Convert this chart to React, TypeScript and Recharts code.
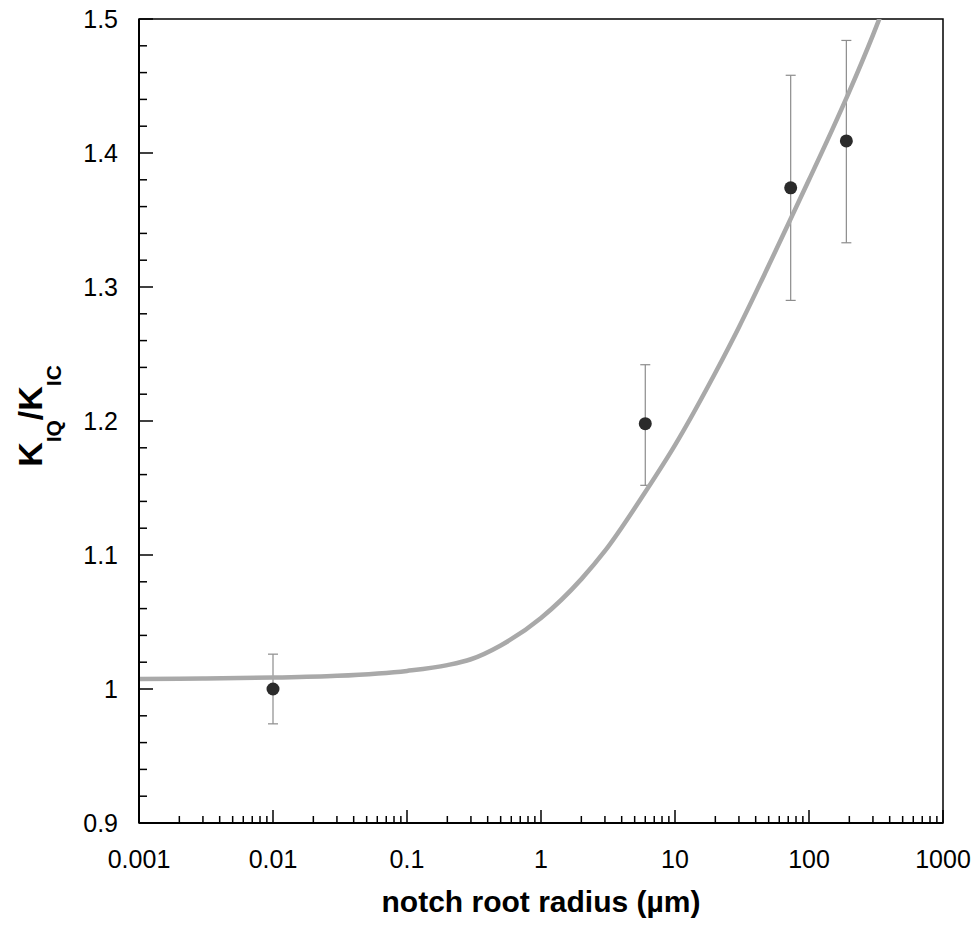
import {
    ComposedChart,
    Line,
    Scatter,
    ErrorBar,
    XAxis,
    YAxis,
    ReferenceArea,
} from 'recharts';

// measured points: notch root radius (um) vs KIQ/KIC, error = [below, above]
const radius = [0.01, 6, 73, 190];
const ratio = [1.0, 1.198, 1.374, 1.409];
const errLow = [0.026, 0.046, 0.084, 0.076];
const errHigh = [0.026, 0.044, 0.084, 0.075];

// fitted curve
const fitRadius = [0.001, 0.003, 0.01, 0.03, 0.1, 0.2, 0.3, 0.5, 1, 2, 3, 6, 10, 20, 30, 50, 70, 100, 150, 200, 300, 350];
const fitRatio = [1.0075, 1.0079, 1.0085, 1.0098, 1.0135, 1.0178, 1.0222, 1.0325, 1.053, 1.082, 1.103, 1.147, 1.182, 1.236, 1.27, 1.316, 1.347, 1.38, 1.418, 1.446, 1.488, 1.505];

const xMajor = [0.001, 0.01, 0.1, 1, 10, 100, 1000];
const xMinor = xMajor.slice(0, -1).flatMap((d) => [2, 3, 4, 5, 6, 7, 8, 9].map((m) => d * m));
const xTicks = [...xMajor, ...xMinor];
const yTicks = Array.from({ length: 31 }, (_, i) => Math.round((0.9 + i * 0.02) * 100) / 100);

const points = radius.map((x, i) => ({ x, y: ratio[i], err: [errLow[i], errHigh[i]] }));
const fit = fitRadius.map((x, i) => ({ x, y: fitRatio[i] }));

const FONT = '"Liberation Sans", Arial, sans-serif';

const fmtX = (v: number) => (v < 1 ? v.toString() : String(Math.round(v)));

const XTick = (props: any) => {
    const { x, y, payload } = props;
    const major = xMajor.includes(payload.value);
    return (
        <g>
            <line x1={x} y1={y} x2={x} y2={y - (major ? 13 : 7)} stroke="#000" strokeWidth={1.5} />
            {major && (
                <text x={x} y={y + 45} textAnchor="middle" fontSize={25} fontFamily={FONT} fill="#000">
                    {fmtX(payload.value)}
                </text>
            )}
        </g>
    );
};

const YTick = (props: any) => {
    const { x, y, payload } = props;
    const major = Math.round(payload.value * 100) % 10 === 0;
    return (
        <g>
            <line x1={x} y1={y} x2={x + (major ? 14 : 8)} y2={y} stroke="#000" strokeWidth={1.5} />
            {major && (
                <text x={x - 21} y={y} dy="0.36em" textAnchor="end" fontSize={25} fontFamily={FONT} fill="#000">
                    {payload.value}
                </text>
            )}
        </g>
    );
};

const XTitle = ({ viewBox }: any) => (
    <text
        x={viewBox.x + viewBox.width / 2}
        y={viewBox.y + 89}
        textAnchor="middle"
        fontSize={30}
        fontWeight="bold"
        fontFamily={FONT}
        fill="#000"
    >
        notch root radius (µm)
    </text>
);

const YTitle = ({ viewBox }: any) => {
    const cx = 42;
    const cy = viewBox.y + viewBox.height / 2 - 5;
    return (
        <text
            x={cx}
            y={cy}
            transform={`rotate(-90, ${cx}, ${cy})`}
            textAnchor="middle"
            fontSize={34}
            fontWeight="bold"
            fontFamily={FONT}
            fill="#000"
        >
            <tspan>K</tspan>
            <tspan fontSize={21} dy={19}>IQ</tspan>
            <tspan dy={-19}>/K</tspan>
            <tspan fontSize={21} dy={19}>IC</tspan>
        </text>
    );
};

export default function App() {
    return (
        <div style={{ position: 'absolute', left: 0, top: 0, width: 975, height: 921 }}>
            <ComposedChart
                width={975}
                height={921}
                margin={{ top: 19, right: 32, bottom: 0, left: 0 }}
            >
                <XAxis
                    dataKey="x"
                    type="number"
                    scale="log"
                    domain={[0.001, 1000]}
                    allowDataOverflow
                    ticks={xTicks}
                    interval={0}
                    tickSize={0}
                    tickMargin={0}
                    tickLine={false}
                    tick={(p: any) => <XTick {...p} />}
                    axisLine={{ stroke: '#000', strokeWidth: 2 }}
                    height={98}
                    label={{ content: (p: any) => <XTitle {...p} /> }}
                />
                <YAxis
                    type="number"
                    domain={[0.9, 1.5]}
                    allowDataOverflow
                    ticks={yTicks}
                    interval={0}
                    tickSize={0}
                    tickMargin={0}
                    tickLine={false}
                    tick={(p: any) => <YTick {...p} />}
                    axisLine={{ stroke: '#000', strokeWidth: 2 }}
                    width={139}
                    label={{ content: (p: any) => <YTitle {...p} /> }}
                />
                <ReferenceArea x1={0.001} x2={1000} y1={0.9} y2={1.5} fill="none" stroke="#000" strokeWidth={1.5} ifOverflow="visible" />
                <Scatter
                    data={points}
                    dataKey="y"
                    isAnimationActive={false}
                    shape={(p: any) => <circle cx={p.cx} cy={p.cy} r={6.5} fill="#2b2b2b" />}
                >
                    <ErrorBar dataKey="err" direction="y" width={5} stroke="#8c8c8c" strokeWidth={1.2} />
                </Scatter>
                <Line
                    data={fit}
                    dataKey="y"
                    type="monotone"
                    stroke="#a9a9a9"
                    strokeWidth={4.5}
                    dot={false}
                    activeDot={false}
                    isAnimationActive={false}
                />
            </ComposedChart>
        </div>
    );
}
